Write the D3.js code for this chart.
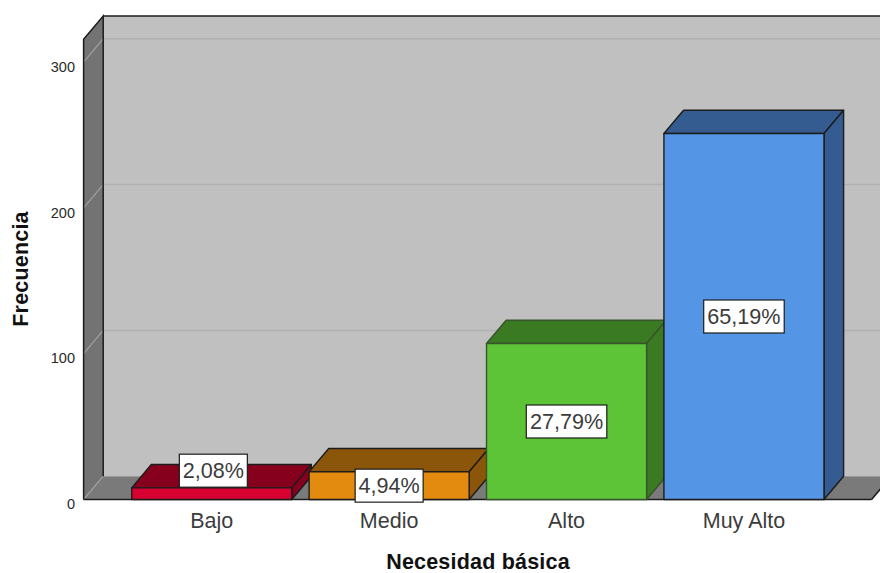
<!DOCTYPE html>
<html><head><meta charset="utf-8">
<script src="https://cdn.jsdelivr.net/npm/d3@7/dist/d3.min.js"></script>
<style>html,body{margin:0;padding:0;background:#fff}svg{display:block}text{font-family:"Liberation Sans",Arial,sans-serif}</style>
</head><body><svg id="c" width="880" height="573"></svg>
<script>
const categories = ["Bajo","Medio","Alto","Muy Alto"];
const counts = [8,19,107,251];
const percentLabels = ["2,08%","4,94%","27,79%","65,19%"];
const frontColors = ["#d70030","#e28b0f","#5dc337","#5495e6"];
const sideColors = ["#86001e","#8b5609","#3a7a22","#345c90"];
const edgeColors = ["#1c1c1c","#1c1c1c","#38542b","#1c1c1c"];
const labelShiftY = [-23,0,0,0];
const labelShiftX = [1.6,0,0,0];
const yTicks = [0,100,200,300];
const yMax = 315.6;
const depthX = 19.6, depthY = 23.3;
const ink = "#1c1c1c";

const svg = d3.select("#c");
const y = d3.scaleLinear().domain([0,yMax]).range([499.5,39.3]);
const x = d3.scaleBand().domain(categories).range([131.7,824]).paddingInner(0.0977).paddingOuter(0);
const wallL = 83.6, floorR = 871.6, base = y(0), wallT = y(yMax);
const pts = a => a.map(p=>p.join(",")).join(" ");

// back wall
svg.append("rect").attr("x",wallL+depthX).attr("y",wallT-depthY).attr("width",880-wallL-depthX+4).attr("height",base-wallT)
  .attr("fill","#c0c0c0");
svg.append("line").attr("x1",wallL+depthX).attr("x2",880).attr("y1",wallT-depthY).attr("y2",wallT-depthY).attr("stroke",ink).attr("stroke-width",1.5);
// left wall
svg.append("polygon").attr("points",pts([[wallL,wallT],[wallL+depthX,wallT-depthY],[wallL+depthX,base-depthY],[wallL,base]]))
  .attr("fill","#737373");
// floor
svg.append("polygon").attr("points",pts([[wallL,base],[wallL+depthX,base-depthY],[floorR+depthX,base-depthY],[floorR,base]]))
  .attr("fill","#7a7a7a");
// gridlines
yTicks.forEach(t=>{
  const gy=y(t);
  if(t>0) svg.append("line").attr("x1",wallL+depthX).attr("x2",880).attr("y1",gy-depthY).attr("y2",gy-depthY).attr("stroke","#b0b0b0").attr("stroke-width",1.5);
  svg.append("line").attr("x1",wallL).attr("x2",wallL+depthX).attr("y1",gy).attr("y2",gy-depthY).attr("stroke","#a0a0a0").attr("stroke-width",1.2);
});
// wall outlines
svg.append("path").attr("d",`M${wallL},${base}V${wallT}L${wallL+depthX},${wallT-depthY}V${base-depthY}`)
  .attr("fill","none").attr("stroke",ink).attr("stroke-width",1.5);
svg.append("line").attr("x1",floorR).attr("y1",base).attr("x2",floorR+depthX).attr("y2",base-depthY).attr("stroke",ink).attr("stroke-width",1.5);

// baseline
svg.append("line").attr("x1",wallL).attr("x2",floorR).attr("y1",base).attr("y2",base).attr("stroke",ink).attr("stroke-width",1.5);

// bars
categories.forEach((c,i)=>{
  const x0=x(c), x1=x0+x.bandwidth(), t=y(counts[i]);
  const g=svg.append("g").attr("stroke",edgeColors[i]).attr("stroke-width",1.4).attr("stroke-linejoin","round");
  g.append("polygon").attr("points",pts([[x0,t],[x0+depthX,t-depthY],[x1+depthX,t-depthY],[x1,t]])).attr("fill",sideColors[i]);
  g.append("polygon").attr("points",pts([[x1,t],[x1+depthX,t-depthY],[x1+depthX,base-depthY],[x1,base]])).attr("fill",sideColors[i]);
  g.append("rect").attr("x",x0).attr("y",t).attr("width",x.bandwidth()).attr("height",base-t).attr("fill",frontColors[i]);
});

// value labels
categories.forEach((c,i)=>{
  const cx=x(c)+x.bandwidth()/2+labelShiftX[i], cy=(y(counts[i])+base)/2+labelShiftY[i];
  const w=percentLabels[i].length===5?68:80.5, h=33;
  svg.append("rect").attr("x",cx-w/2).attr("y",cy-h/2).attr("width",w).attr("height",h).attr("fill","#fff").attr("stroke",ink).attr("stroke-width",1.2);
  svg.append("text").attr("x",cx).attr("y",cy+7.5).attr("text-anchor","middle").attr("font-size",21.6).attr("fill","#3c3c3c").text(percentLabels[i]);
});

// axes
const yAxis = svg.append("g").attr("transform","translate(75,4.6)")
  .call(d3.axisLeft(y).tickValues(yTicks).tickSize(0).tickPadding(0));
yAxis.select(".domain").remove();
yAxis.attr("font-size",14.5).style("color","#2a2a2a");
const xAxis = svg.append("g").attr("transform","translate(0,512.5)")
  .call(d3.axisBottom(x).tickSize(0).tickPadding(0));
xAxis.select(".domain").remove();
xAxis.attr("font-size",21.5).style("color","#3c3c3c");

svg.append("text").attr("x",478).attr("y",568.5).attr("text-anchor","middle").attr("font-size",21.5).attr("letter-spacing",0.2).attr("font-weight","bold").attr("fill","#111").text("Necesidad básica");
svg.append("text").attr("transform","translate(28,269) rotate(-90)").attr("text-anchor","middle").attr("font-size",21.5).attr("letter-spacing",0.2).attr("font-weight","bold").attr("fill","#111").text("Frecuencia");
</script></body></html>
